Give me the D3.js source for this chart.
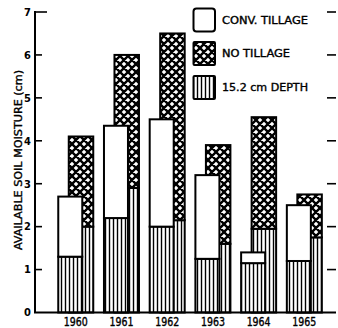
<!DOCTYPE html>
<html>
<head>
<meta charset="utf-8">
<script src="https://cdn.jsdelivr.net/npm/d3@7"></script>
<style>
  html, body { margin: 0; padding: 0; background: #fff; }
  svg text { font-family: "DejaVu Sans Condensed", "DejaVu Sans", sans-serif; fill: #000; }
  svg text.lettering { stroke: #000; stroke-width: 0.35px; }
</style>
</head>
<body>
<svg id="chart" width="338" height="328"></svg>
<script>
// Available soil moisture by year: conventional tillage vs. no tillage,
// with the portion held in the top 15.2 cm shown hatched.
const years = ["1960", "1961", "1962", "1963", "1964", "1965"];
const convTotal = [2.7, 4.35, 4.5, 3.2, 1.4, 2.5];
const convDepth = [1.3, 2.2, 2.0, 1.25, 1.15, 1.2];
const noTillTotal = [4.1, 6.0, 6.5, 3.9, 4.55, 2.75];
const noTillDepth = [2.0, 2.9, 2.15, 1.6, 1.95, 1.75];
const yTicks = [0, 1, 2, 3, 4, 5, 6, 7];
const legendLabels = ["CONV. TILLAGE", "NO TILLAGE", "15.2 cm DEPTH"];

const svg = d3.select("#chart");
const defs = svg.append("defs");

// vertical line hatch
const vh = defs.append("pattern").attr("id", "vhatch")
  .attr("patternUnits", "userSpaceOnUse").attr("width", 4).attr("height", 8);
vh.append("rect").attr("width", 4).attr("height", 8).attr("fill", "#fff");
vh.append("line").attr("x1", 1.5).attr("x2", 1.5).attr("y1", 0).attr("y2", 8)
  .attr("stroke", "#000").attr("stroke-width", 1.4);

// diamond cross hatch
const ch = defs.append("pattern").attr("id", "xhatch")
  .attr("patternUnits", "userSpaceOnUse").attr("width", 8).attr("height", 8);
ch.append("rect").attr("width", 8).attr("height", 8).attr("fill", "#fff");
ch.append("path").attr("d", "M0,0 L8,8 M8,0 L0,8 M-1,7 L1,9 M7,-1 L9,1 M-1,1 L1,-1 M7,9 L9,7")
  .attr("stroke", "#000").attr("stroke-width", 2.4).attr("fill", "none");

const x = d3.scaleBand().domain(years).range([52.9, 327.2]).padding(0);
const y = d3.scaleLinear().domain([0, 7]).range([312.5, 12]);

const bars = years.map((yr, i) => ({
  yr, ct: convTotal[i], cd: convDepth[i], nt: noTillTotal[i], nd: noTillDepth[i]
}));

const g = svg.append("g");
const strokeW = 2;

function segment(sel, x0, w, lo, hi, fill) {
  sel.append("rect")
    .attr("x", x0).attr("width", w)
    .attr("y", y(hi)).attr("height", y(lo) - y(hi))
    .attr("fill", fill).attr("stroke", "#000").attr("stroke-width", strokeW);
}

bars.forEach(d => {
  const c = x(d.yr) + x.bandwidth() / 2;
  const grp = g.append("g");
  // no-tillage bar (behind)
  segment(grp, c - 7, 24.5, 0, d.nd, "url(#vhatch)");
  segment(grp, c - 7, 24.5, d.nd, d.nt, "url(#xhatch)");
  // conventional tillage bar (front)
  segment(grp, c - 17.5, 24, 0, d.cd, "url(#vhatch)");
  segment(grp, c - 17.5, 24, d.cd, d.ct, "#fff");
});

// axes
const axisG = svg.append("g");
axisG.append("line").attr("x1", 35).attr("x2", 35).attr("y1", y(7) - 1).attr("y2", y(0))
  .attr("stroke", "#000").attr("stroke-width", 2);
axisG.append("line").attr("x1", 34).attr("x2", 336).attr("y1", y(0)).attr("y2", y(0))
  .attr("stroke", "#000").attr("stroke-width", 2);

yTicks.forEach(t => {
  if (t > 0) {
    axisG.append("line").attr("x1", 35).attr("x2", t === 7 ? 47 : 42)
      .attr("y1", y(t)).attr("y2", y(t)).attr("stroke", "#000").attr("stroke-width", 1.6);
    axisG.append("line").attr("x1", 327).attr("x2", 336)
      .attr("y1", y(t)).attr("y2", y(t)).attr("stroke", "#000").attr("stroke-width", 1.6);
  }
  axisG.append("text").attr("x", 31).attr("y", y(t)).attr("dy", "0.35em")
    .attr("text-anchor", "end").attr("font-size", 11).attr("font-weight", "bold")
    .text(t);
});

years.forEach(yr => {
  axisG.append("text").attr("class", "lettering")
    .attr("x", x(yr) + x.bandwidth() / 2).attr("y", 325.5)
    .attr("text-anchor", "middle").attr("font-size", 11.5)
    .attr("textLength", 24).attr("lengthAdjust", "spacingAndGlyphs")
    .text(yr);
});

svg.append("text").attr("class", "lettering")
  .attr("transform", "translate(18.5,160) rotate(-90)")
  .attr("text-anchor", "middle").attr("dy", "0.35em").attr("font-size", 11)
  .attr("textLength", 180).attr("lengthAdjust", "spacingAndGlyphs")
  .text("AVAILABLE SOIL MOISTURE (cm)");

// legend
const legendFills = ["#fff", "url(#xhatch)", "url(#vhatch)"];
const legendTops = [8.5, 42, 76];
const legendWidths = [86, 68, 86];
legendLabels.forEach((lab, i) => {
  svg.append("rect").attr("x", 193.5).attr("y", legendTops[i]).attr("width", 21.5).attr("height", 23)
    .attr("rx", i === 0 ? 3 : 1).attr("fill", legendFills[i])
    .attr("stroke", "#000").attr("stroke-width", 2);
  svg.append("text").attr("class", "lettering")
    .attr("x", 222).attr("y", legendTops[i] + 11.5).attr("dy", "0.35em")
    .attr("font-size", 11)
    .attr("textLength", legendWidths[i]).attr("lengthAdjust", "spacingAndGlyphs")
    .text(lab);
});
</script>
</body>
</html>
